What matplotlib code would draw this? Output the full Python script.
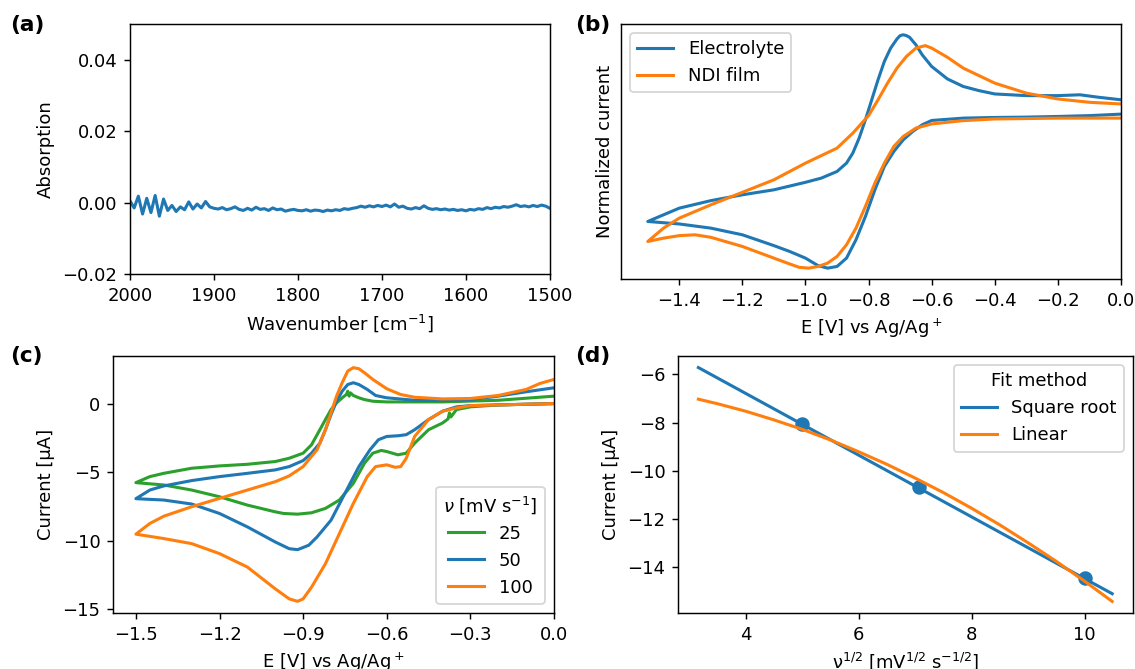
import numpy as np
import matplotlib
matplotlib.use('Agg')
import matplotlib.pyplot as plt

# (a) IR spectrum
wavenumber = np.arange(2000, 1499, -5)
absorption = [0.0005, -0.0015, 0.0018, -0.0032, 0.0012, -0.0028, 0.0020, -0.0038, 0.0010,
              -0.0022, -0.0008, -0.0025, -0.0012, -0.0020, 0.0002, -0.0018, -0.0004, -0.0015, 0.0003, -0.0012, -0.0016,
              -0.0018, -0.0014, -0.0020, -0.0017, -0.0012, -0.0019, -0.0022, -0.0016, -0.0021, -0.0013,
              -0.0019, -0.0017, -0.0022, -0.0015, -0.0020, -0.0018, -0.0024, -0.0021, -0.0019, -0.0022,
              -0.0023, -0.0020, -0.0024, -0.0021, -0.0022, -0.0025, -0.0021, -0.0023, -0.0020, -0.0022,
              -0.0017, -0.0019, -0.0016, -0.0014, -0.0010, -0.0013, -0.0009, -0.0012, -0.0008, -0.0011,
              -0.0007, -0.0012, -0.0004, -0.0013, -0.0010, -0.0016, -0.0018, -0.0014, -0.0017, -0.0009,
              -0.0016, -0.0019, -0.0017, -0.0020, -0.0018, -0.0021, -0.0019, -0.0022, -0.0020, -0.0023,
              -0.0019, -0.0021, -0.0017, -0.0019, -0.0014, -0.0017, -0.0013, -0.0015, -0.0011, -0.0013,
              -0.0010, -0.0006, -0.0011, -0.0009, -0.0012, -0.0008, -0.0011, -0.0007, -0.0010, -0.0016]

# (b) normalized CVs: forward (0 -> -1.5 V) then reverse
E_elec = [0.0, -0.1, -0.2, -0.3, -0.4, -0.5, -0.6, -0.63, -0.66, -0.69, -0.72, -0.75, -0.78, -0.81,
          -0.84, -0.87, -0.90, -0.93, -0.96, -1.0, -1.05, -1.1, -1.2, -1.3, -1.4, -1.5,
          -1.45, -1.4, -1.3, -1.2, -1.1, -1.0, -0.95, -0.9, -0.87, -0.85, -0.83, -0.81, -0.79, -0.77,
          -0.75, -0.73, -0.71, -0.70, -0.69, -0.68, -0.67, -0.65, -0.63, -0.60, -0.55, -0.50, -0.45,
          -0.40, -0.30, -0.20, -0.13, -0.07, 0.0]
I_elec = [0.048, 0.03, 0.02, 0.012, 0.008, 0.0, -0.028, -0.08, -0.16, -0.26, -0.40, -0.58, -0.86, -1.18,
          -1.46, -1.68, -1.78, -1.80, -1.77, -1.68, -1.60, -1.53, -1.40, -1.32, -1.27, -1.24,
          -1.16, -1.08, -0.99, -0.92, -0.86, -0.77, -0.72, -0.64, -0.54, -0.42, -0.24, -0.02, 0.22, 0.46,
          0.68, 0.84, 0.95, 0.99, 1.0, 0.99, 0.97, 0.88, 0.76, 0.62, 0.47, 0.38, 0.33,
          0.29, 0.27, 0.27, 0.28, 0.25, 0.22]
E_film = [0.0, -0.2, -0.4, -0.5, -0.6, -0.65, -0.69, -0.72, -0.75, -0.78, -0.81, -0.84, -0.87, -0.90,
          -0.93, -0.96, -0.99, -1.02, -1.05, -1.1, -1.2, -1.3, -1.35, -1.4, -1.45, -1.5,
          -1.45, -1.4, -1.3, -1.2, -1.1, -1.0, -0.9, -0.85, -0.80, -0.77, -0.74, -0.71, -0.68, -0.65,
          -0.63, -0.62, -0.60, -0.55, -0.50, -0.40, -0.30, -0.20, -0.10, 0.0]
I_film = [0.0, 0.0, -0.01, -0.03, -0.07, -0.12, -0.22, -0.34, -0.54, -0.78, -1.06, -1.32, -1.52, -1.66,
          -1.74, -1.78, -1.80, -1.79, -1.75, -1.68, -1.54, -1.43, -1.40, -1.41, -1.44, -1.48,
          -1.32, -1.20, -1.04, -0.89, -0.74, -0.54, -0.36, -0.18, 0.03, 0.22, 0.42, 0.60, 0.74, 0.84,
          0.86, 0.87, 0.84, 0.73, 0.60, 0.42, 0.30, 0.23, 0.19, 0.17]

# (c) CVs at different scan rates [V, uA]
E_25 = [0.0, -0.2, -0.3, -0.35, -0.37, -0.375, -0.38, -0.4, -0.45, -0.5, -0.53, -0.56, -0.6, -0.62, -0.65,
        -0.68, -0.72, -0.77, -0.82, -0.87, -0.92, -0.97, -1.0, -1.1, -1.2, -1.3, -1.4, -1.5,
        -1.45, -1.4, -1.3, -1.2, -1.1, -1.0, -0.95, -0.9, -0.87, -0.84, -0.82, -0.80, -0.78, -0.76,
        -0.745, -0.74, -0.735, -0.73, -0.72, -0.70, -0.68, -0.65, -0.6, -0.4, -0.2, 0.0]
I_25 = [0.0, -0.10, -0.24, -0.44, -0.98, -0.68, -1.12, -1.42, -1.91, -2.89, -3.62, -3.74, -3.50, -3.42, -3.62,
        -4.35, -5.82, -7.04, -7.65, -7.97, -8.07, -8.02, -7.90, -7.41, -6.80, -6.31, -5.94, -5.77,
        -5.33, -5.09, -4.72, -4.55, -4.43, -4.23, -3.99, -3.62, -3.01, -1.91, -1.17, -0.44, 0.05, 0.42,
        0.66, 0.90, 0.54, 0.78, 0.59, 0.42, 0.29, 0.17, 0.12, 0.12, 0.24, 0.54]
E_50 = [0.0, -0.2, -0.3, -0.35, -0.4, -0.45, -0.5, -0.53, -0.56, -0.6, -0.63, -0.66, -0.7, -0.75, -0.8,
        -0.85, -0.88, -0.92, -0.95, -1.0, -1.1, -1.2, -1.3, -1.4, -1.5,
        -1.45, -1.4, -1.3, -1.2, -1.1, -1.0, -0.95, -0.9, -0.87, -0.84, -0.82, -0.80, -0.78, -0.76,
        -0.74, -0.72, -0.70, -0.67, -0.64, -0.6, -0.5, -0.4, -0.3, -0.2, -0.1, 0.0]
I_50 = [0.0, -0.10, -0.15, -0.24, -0.56, -1.17, -1.91, -2.27, -2.35, -2.40, -2.64, -3.37, -4.60, -6.55, -8.51,
        -9.73, -10.34, -10.66, -10.59, -10.10, -9.00, -8.02, -7.33, -7.04, -6.94,
        -6.31, -6.01, -5.62, -5.33, -5.09, -4.84, -4.60, -4.16, -3.62, -2.89, -1.91, -0.81, 0.17, 0.90,
        1.39, 1.52, 1.39, 1.03, 0.59, 0.42, 0.24, 0.22, 0.29, 0.54, 0.86, 1.15]
E_100 = [0.0, -0.1, -0.2, -0.3, -0.35, -0.4, -0.45, -0.5, -0.53, -0.55, -0.57, -0.6, -0.64, -0.67, -0.72,
         -0.77, -0.82, -0.87, -0.90, -0.92, -0.95, -1.0, -1.1, -1.2, -1.3, -1.4, -1.5,
         -1.45, -1.4, -1.3, -1.2, -1.1, -1.0, -0.95, -0.9, -0.87, -0.85, -0.82, -0.80, -0.78, -0.76,
         -0.74, -0.72, -0.70, -0.68, -0.65, -0.6, -0.55, -0.5, -0.4, -0.3, -0.2, -0.1, -0.05, 0.0]
I_100 = [0.0, -0.05, -0.10, -0.15, -0.32, -0.56, -1.17, -2.40, -3.99, -4.60, -4.65, -4.47, -4.60, -5.33, -7.29,
         -9.49, -11.69, -13.40, -14.25, -14.43, -14.25, -13.52, -11.93, -10.95, -10.22, -9.85, -9.53,
         -8.75, -8.22, -7.53, -6.92, -6.31, -5.70, -5.28, -4.60, -3.86, -3.37, -1.91, -0.68, 0.54, 1.52,
         2.37, 2.62, 2.54, 2.25, 1.76, 1.08, 0.66, 0.46, 0.34, 0.37, 0.59, 1.03, 1.47, 1.76]

# (d) peak current vs sqrt(scan rate)
sqrt_rate = [5.0, 7.07, 10.0]
peak_current = [-8.07, -10.66, -14.45]
x_sqrt_fit = [3.16, 10.49]
y_sqrt_fit = [-5.72, -15.09]
x_lin_fit = [3.16, 3.5, 4, 4.5, 5, 5.5, 6, 6.5, 7, 7.5, 8, 8.5, 9, 9.5, 10, 10.49]
y_lin_fit = [-7.03, -7.22, -7.53, -7.89, -8.28, -8.72, -9.21, -9.73, -10.30, -10.90, -11.55, -12.24,
             -12.98, -13.75, -14.57, -15.41]

blue = '#1f77b4'
orange = '#ff7f0e'
green = '#2ca02c'
lw = 1.7

fig = plt.figure(figsize=(1135 / 130, 669 / 130), dpi=130)
ax1 = fig.add_axes([0.1145, 0.5904, 0.3700, 0.3737])
ax2 = fig.add_axes([0.5471, 0.5830, 0.4405, 0.3812])
ax3 = fig.add_axes([0.0996, 0.0837, 0.3885, 0.3842])
ax4 = fig.add_axes([0.5974, 0.0837, 0.4009, 0.3842])

ax1.plot(wavenumber, absorption, color=blue, lw=lw)
ax1.set_xlim(2000, 1500)
ax1.set_ylim(-0.02, 0.05)
ax1.set_yticks([-0.02, 0.0, 0.02, 0.04])
ax1.set_xlabel('Wavenumber [cm$^{-1}$]')
ax1.set_ylabel('Absorption')

ax2.plot(E_elec, I_elec, color=blue, lw=lw, label='Electrolyte')
ax2.plot(E_film, I_film, color=orange, lw=lw, label='NDI film')
ax2.set_xlim(-1.585, 0.0)
ax2.set_ylim(-1.93, 1.13)
ax2.set_yticks([])
ax2.set_xlabel('E [V] vs Ag/Ag$^+$')
ax2.set_ylabel('Normalized current')
ax2.legend(loc='upper left')

ax3.plot(E_25, I_25, color=green, lw=lw, label='25')
ax3.plot(E_50, I_50, color=blue, lw=lw, label='50')
ax3.plot(E_100, I_100, color=orange, lw=lw, label='100')
ax3.set_xlim(-1.582, 0.0)
ax3.set_xticks([-1.5, -1.2, -0.9, -0.6, -0.3, 0.0])
ax3.set_yticks([0, -5, -10, -15])
ax3.set_xlabel('E [V] vs Ag/Ag$^+$')
ax3.set_ylabel('Current [µA]')
ax3.legend(title=r'$\nu$ [mV s$^{-1}$]', loc='lower right')

ax4.plot(sqrt_rate, peak_current, 'o', color=blue, ms=7)
ax4.plot(x_sqrt_fit, y_sqrt_fit, color=blue, lw=lw, label='Square root')
ax4.plot(x_lin_fit, y_lin_fit, color=orange, lw=lw, label='Linear')
ax4.set_xlim(2.8, 10.86)
ax4.set_ylim(-15.89, -5.24)
ax4.set_xticks([4, 6, 8, 10])
ax4.set_yticks([-6, -8, -10, -12, -14])
ax4.set_xlabel('ν$^{1/2}$ [mV$^{1/2}$ s$^{-1/2}$]')
ax4.set_ylabel('Current [µA]')
ax4.legend(title='Fit method', loc='upper right')

for txt, x, y in [('(a)', 10, 25), ('(b)', 575, 25), ('(c)', 10, 356), ('(d)', 575, 356)]:
    fig.text(x / 1135, 1 - y / 669, txt, fontsize=12, fontweight='bold', va='center')

fig.savefig('out.png', dpi=130)
